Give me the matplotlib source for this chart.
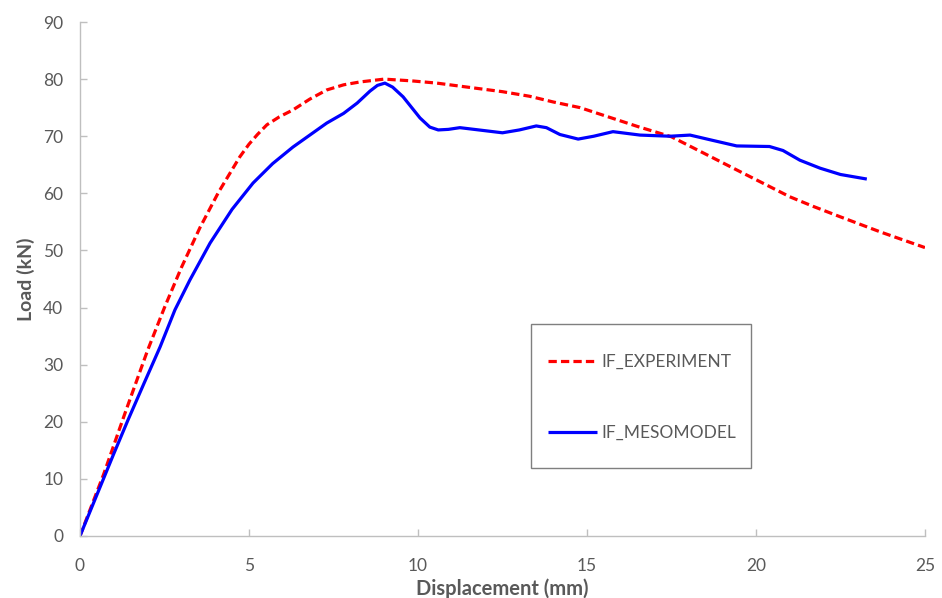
import matplotlib
matplotlib.use('Agg')
import matplotlib.pyplot as plt
from matplotlib.patches import Rectangle

# Load-displacement curves (mm, kN)
exp_disp = [0, 0.7, 1.35, 2.0, 2.5, 3.0, 3.55, 4.1, 4.73, 5.0, 5.25, 5.53,
            5.9, 6.3, 6.8, 7.3, 7.8, 8.28, 9.0, 9.8, 10.56, 11.2, 12.5, 13.3,
            14.0, 14.8, 15.47, 16.5, 17.5, 18.5, 19.53, 20.3, 21.0, 21.7,
            22.49, 23.7, 25.0]
exp_load = [0, 10.8, 21.8, 32.5, 40.0, 47.0, 54.0, 60.2, 66.4, 68.6, 70.3, 72.0,
            73.4, 74.6, 76.5, 78.1, 79.0, 79.5, 80.0, 79.7, 79.3, 78.8, 77.8, 77.0,
            76.0, 75.0, 73.7, 71.7, 69.9, 66.9, 63.8, 61.5, 59.4, 57.7,
            55.9, 53.2, 50.5]

meso_disp = [0, 1.0, 1.42, 1.9, 2.37, 2.81, 3.25, 3.85, 4.5, 5.12, 5.7, 6.3,
             7.3, 7.8, 8.2, 8.58, 8.8, 9.02, 9.25, 9.56, 10.06, 10.35, 10.6,
             10.9, 11.24, 11.8, 12.5, 13.0, 13.5, 13.8, 14.2, 14.74, 15.2,
             15.77, 16.57, 17.46, 18.05, 18.7, 19.43, 20.4, 20.8, 21.3, 21.9,
             22.5, 23.28]
meso_load = [0, 14.4, 20.3, 26.8, 33.1, 39.6, 44.8, 51.3, 57.2, 61.8, 65.2, 68.1,
             72.3, 74.0, 75.8, 77.9, 78.9, 79.3, 78.6, 76.9, 73.2, 71.6, 71.1,
             71.2, 71.5, 71.1, 70.6, 71.1, 71.8, 71.5, 70.3, 69.5, 70.0,
             70.8, 70.2, 70.0, 70.2, 69.3, 68.3, 68.2, 67.5, 65.8, 64.4,
             63.3, 62.5]

x_ticks = [0, 5, 10, 15, 20, 25]
y_ticks = [0, 10, 20, 30, 40, 50, 60, 70, 80, 90]

plt.rcParams['font.family'] = ['Lato', 'DejaVu Sans']

fig = plt.figure(figsize=(9.42, 5.98), dpi=100)
ax = fig.add_axes([0.0849, 0.1037, 0.897, 0.8595])

ax.plot(exp_disp, exp_load, color='#FF0000', lw=2.3,
        linestyle=(0, (2.6, 1.3)), label='IF_EXPERIMENT')
ax.plot(meso_disp, meso_load, color='#0000FF', lw=2.3,
        solid_capstyle='butt', label='IF_MESOMODEL')

ax.set_xlim(0, 25)
ax.set_ylim(0, 90)
ax.set_xticks(x_ticks)
ax.set_yticks(y_ticks)

for side in ['top', 'right']:
    ax.spines[side].set_visible(False)
for side in ['left', 'bottom']:
    ax.spines[side].set_color('#BFBFBF')
    ax.spines[side].set_linewidth(1.0)

ax.tick_params(axis='both', direction='in', length=5, width=1.0,
               color='#BFBFBF', labelcolor='#595959', labelsize=12.5)
ax.tick_params(axis='x', pad=16)
ax.tick_params(axis='y', pad=12)

ax.set_xlabel('Displacement (mm)', fontsize=14.5, fontweight='bold',
              color='#595959', labelpad=3)
ax.set_ylabel('Load (kN)', fontsize=14, fontweight='bold',
              color='#595959', labelpad=6)

# legend box drawn separately so the padding can differ per direction
box = Rectangle((0.534, 0.132), 0.26, 0.28, transform=ax.transAxes,
                facecolor='white', edgecolor='#7F7F7F', lw=1.0, zorder=3)
ax.add_patch(box)
leg = ax.legend(loc='upper left', bbox_to_anchor=(0.554, 0.354),
                frameon=False, fontsize=12.5, labelspacing=3.15,
                borderpad=0, handlelength=2.8, handletextpad=0.25,
                borderaxespad=0)
leg.set_zorder(4)
for t in leg.get_texts():
    t.set_color('#595959')

fig.savefig('out.png', dpi=100)
